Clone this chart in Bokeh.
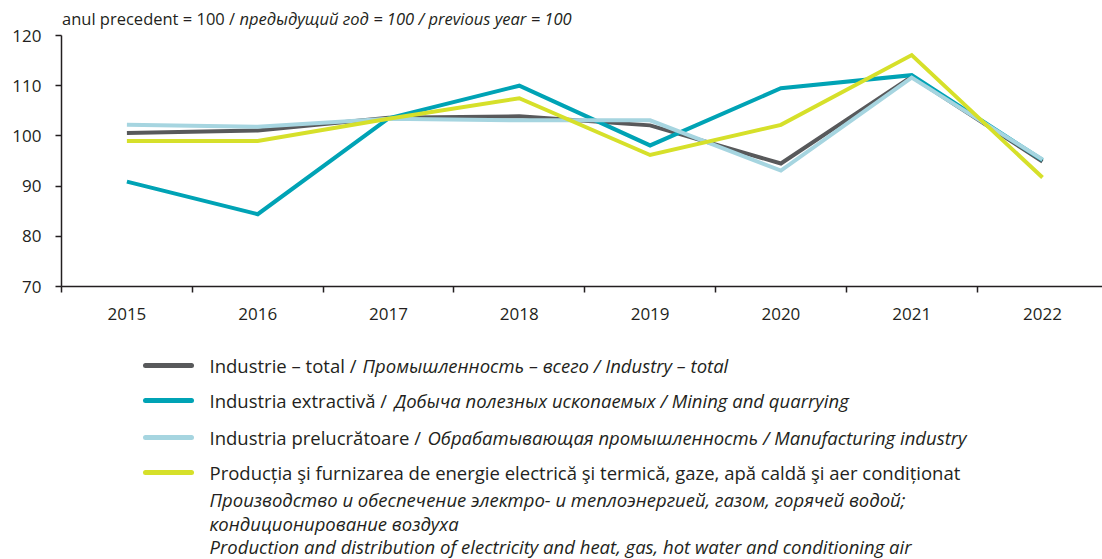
from bokeh.plotting import figure
from bokeh.layouts import column
from bokeh.models import Range1d, FixedTicker
from bokeh.core.properties import value
from bokeh.embed import file_html
from bokeh.resources import INLINE

# ---------------- data ----------------
years = ["2015", "2016", "2017", "2018", "2019", "2020", "2021", "2022"]
total = [100.6, 101.1, 103.6, 103.9, 102.1, 94.5, 111.8, 94.9]
mining = [90.9, 84.4, 103.5, 110.0, 98.1, 109.5, 112.1, 95.2]
manuf = [102.2, 101.8, 103.4, 103.1, 103.1, 93.1, 111.6, 95.3]
energy = [99.0, 99.0, 103.4, 107.5, 96.2, 102.2, 116.1, 91.7]
y_ticks = [70, 80, 90, 100, 110, 120]

series_colors = ["#58595b", "#00a3b5", "#a6d5e0", "#d6e02a"]
legend_roman = [
    "Industrie \u2013 total /",
    "Industria extractiv\u0103 /",
    "Industria prelucr\u0103toare /",
    "Produc\u021bia \u015fi furnizarea de energie electric\u0103 \u015fi termic\u0103, gaze, ap\u0103 cald\u0103 \u015fi aer condi\u021bionat",
]
legend_italic = [
    "\u041f\u0440\u043e\u043c\u044b\u0448\u043b\u0435\u043d\u043d\u043e\u0441\u0442\u044c \u2013 \u0432\u0441\u0435\u0433\u043e / Industry \u2013 total",
    "\u0414\u043e\u0431\u044b\u0447\u0430 \u043f\u043e\u043b\u0435\u0437\u043d\u044b\u0445 \u0438\u0441\u043a\u043e\u043f\u0430\u0435\u043c\u044b\u0445 / Mining and quarrying",
    "\u041e\u0431\u0440\u0430\u0431\u0430\u0442\u044b\u0432\u0430\u044e\u0449\u0430\u044f \u043f\u0440\u043e\u043c\u044b\u0448\u043b\u0435\u043d\u043d\u043e\u0441\u0442\u044c / Manufacturing industry",
]
energy_extra = [
    "\u041f\u0440\u043e\u0438\u0437\u0432\u043e\u0434\u0441\u0442\u0432\u043e \u0438 \u043e\u0431\u0435\u0441\u043f\u0435\u0447\u0435\u043d\u0438\u0435 \u044d\u043b\u0435\u043a\u0442\u0440\u043e- \u0438 \u0442\u0435\u043f\u043b\u043e\u044d\u043d\u0435\u0440\u0433\u0438\u0435\u0439, \u0433\u0430\u0437\u043e\u043c, \u0433\u043e\u0440\u044f\u0447\u0435\u0439 \u0432\u043e\u0434\u043e\u0439;",
    "\u043a\u043e\u043d\u0434\u0438\u0446\u0438\u043e\u043d\u0438\u0440\u043e\u0432\u0430\u043d\u0438\u0435 \u0432\u043e\u0437\u0434\u0443\u0445\u0430",
    "Production and distribution of electricity and heat, gas, hot water and conditioning air",
]
header_roman = "anul precedent = 100 /"
header_italic = "\u043f\u0440\u0435\u0434\u044b\u0434\u0443\u0449\u0438\u0439 \u0433\u043e\u0434 = 100 / previous year = 100"

FONT = "Open Sans"
TXT = "#231f20"
W = 1102

# ---------------- chart ----------------
X0 = 61           # frame left in px
XSTEP = 130.8     # px per category
PXU = 251 / 50    # px per y unit
TOP = 5           # frame top in px (frame extends above 120 for the header)
x_end = -0.5 + (W - X0) / XSTEP
y_end = 120 + (35 - TOP) / PXU

p = figure(width=W, height=330, output_backend="svg", toolbar_location=None,
           x_range=Range1d(-0.5, x_end), y_range=Range1d(70, y_end),
           min_border_left=X0, min_border_right=0, min_border_top=TOP,
           min_border_bottom=44)
p.outline_line_color = None
p.xgrid.grid_line_color = None
p.ygrid.grid_line_color = None

xs = list(range(len(years)))
for ys, col in zip([total, mining, manuf, energy], series_colors):
    p.line(xs, ys, line_color=col, line_width=4, line_join="miter")

xa = p.xaxis[0]
xa.ticker = FixedTicker(ticks=xs, minor_ticks=[i - 0.5 for i in range(len(years) + 1)])
xa.major_label_overrides = {i: y for i, y in enumerate(years)}
xa.major_tick_out = 0
xa.major_tick_in = 0
xa.minor_tick_out = 6
xa.minor_tick_in = 0
xa.minor_tick_line_color = TXT
xa.minor_tick_line_width = 1.5
xa.axis_line_color = TXT
xa.axis_line_width = 1.5
xa.major_label_standoff = 15
xa.major_label_text_font = FONT
xa.major_label_text_font_size = "17px"
xa.major_label_text_color = TXT

ya = p.yaxis[0]
ya.ticker = FixedTicker(ticks=y_ticks)
ya.bounds = (70, 120)
ya.major_tick_out = 6
ya.major_tick_in = 0
ya.minor_tick_line_color = None
ya.major_tick_line_color = TXT
ya.major_tick_line_width = 1.5
ya.axis_line_color = TXT
ya.axis_line_width = 1.5
ya.major_label_standoff = 14
ya.major_label_text_font = FONT
ya.major_label_text_font_size = "17px"
ya.major_label_text_color = TXT


def dx(px):
    return -0.5 + (px - X0) / XSTEP


def dy(py):
    return 120 + (35 - py) / PXU


p.text(x=[dx(61.5)], y=[dy(18)], text=[header_roman], text_font=value(FONT),
       text_font_size="16.5px", text_color=TXT, text_baseline="middle")
p.text(x=[dx(239)], y=[dy(18)], text=[header_italic], text_font=value(FONT),
       text_font_style="italic", text_font_size="16.5px", text_color=TXT,
       text_baseline="middle")

# ---------------- legend ----------------
H2 = 229
OFF = 330
lg = figure(width=W, height=H2, output_backend="svg", toolbar_location=None,
            x_range=Range1d(X0, W), y_range=Range1d(H2, 0),
            x_axis_location=None, y_axis_location=None,
            min_border_left=X0, min_border_right=0, min_border_top=0,
            min_border_bottom=0)
lg.xgrid.grid_line_color = None
lg.ygrid.grid_line_color = None
lg.outline_line_color = None

row_y = [365, 400, 437, 472]
italic_x = [362, 394, 427]
LFS = "18.5px"
for i, col in enumerate(series_colors):
    yy = row_y[i] - OFF
    lg.segment(x0=[145], y0=[yy], x1=[191], y1=[yy], line_color=col, line_width=5,
               line_cap="round")
    lg.text(x=[209], y=[yy], text=[legend_roman[i]], text_font=value(FONT),
            text_font_size=LFS, text_color=TXT, text_baseline="middle")
    if i < 3:
        lg.text(x=[italic_x[i]], y=[yy], text=[legend_italic[i]], text_font=value(FONT),
                text_font_style="italic", text_font_size=LFS, text_color=TXT,
                text_baseline="middle")

extra_y = [499, 523, 546]
for t, yy in zip(energy_extra, extra_y):
    lg.text(x=[209], y=[yy - OFF], text=[t], text_font=value(FONT),
            text_font_style="italic", text_font_size=LFS, text_color=TXT,
            text_baseline="middle")

layout = column(p, lg, spacing=0)
open("out.html", "w").write(file_html(layout, INLINE))
